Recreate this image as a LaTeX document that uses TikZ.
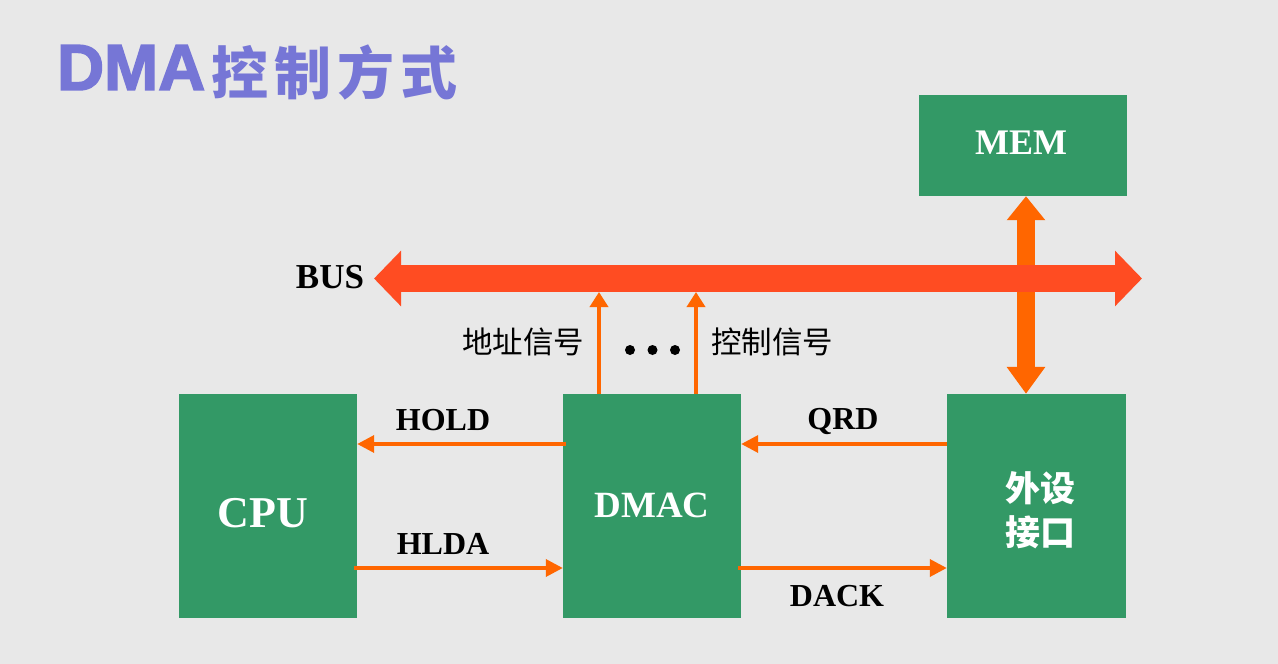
\documentclass[tikz,border=0pt]{standalone}
\usepackage{fontspec}
\setmainfont{Liberation Serif}
\newfontfamily\cjk{Noto Sans CJK SC}
\newfontfamily\titlesans[BoldFeatures={FakeBold=2.5}]{Liberation Sans}
\usetikzlibrary{arrows.meta}
\definecolor{bgc}{HTML}{E8E8E8}
\definecolor{boxgreen}{HTML}{339966}
\definecolor{busred}{HTML}{FF4C22}
\definecolor{sigorange}{HTML}{FF6600}
\definecolor{titleblue}{HTML}{7676D6}
\begin{document}
\begin{tikzpicture}[x=1pt,y=-1pt,
  box/.style={fill=boxgreen, draw=none, inner sep=0pt},
  boxtext/.style={text=white, inner sep=0pt},
  sig/.style={draw=sigorange, line width=3.5pt, -{Triangle[length=17pt,width=17pt]}},
  upsig/.style={draw=sigorange, line width=3.5pt, -{Triangle[length=15pt,width=18pt]}},
  lbl/.style={inner sep=0pt, font=\bfseries\fontsize{32}{36}\selectfont},
  cjklbl/.style={inner sep=0pt, font=\cjk\fontsize{30.5}{34}\selectfont},
  dot/.style={fill=black, draw=none}]
\fill[bgc] (0,0) rectangle (1278,664);
\useasboundingbox (0,0) rectangle (1278,664);

% title
\node[inner sep=0pt, text=titleblue, font=\titlesans\bfseries\fontsize{65}{70}\selectfont, anchor=west] (tdma) at (57,67.5) {DMA};
\node[inner sep=0pt, text=titleblue, font=\cjk\bfseries\fontsize{57}{60}\selectfont, anchor=west] (tcn) at (211,72) {控\hspace{6pt}制\hspace{6pt}方\hspace{6pt}式};

% boxes
\node[box, minimum width=208pt, minimum height=101pt] (mem) at (1023,145.5) {};
\node[box, minimum width=178pt, minimum height=224pt] (cpu) at (268,506) {};
\node[box, minimum width=178pt, minimum height=224pt] (dmac) at (652,506) {};
\node[box, minimum width=179pt, minimum height=224pt] (per) at (1036.5,506) {};

\node[boxtext, font=\bfseries\fontsize{36}{40}\selectfont] (memt) at (1021,143) {MEM};
\node[boxtext, font=\bfseries\fontsize{44}{48}\selectfont] (cput) at (263,513) {CPU};
\node[boxtext, font=\bfseries\fontsize{37}{40}\selectfont] (dmact) at (652,505) {DMAC};
\node[boxtext, font=\cjk\bfseries\fontsize{35}{44}\selectfont, align=center] (pert) at (1040,510) {外设\\接口};

% MEM <-> peripheral
\coordinate (mx) at (1026,0);
\draw[sigorange, line width=18pt, {Triangle[length=24pt,width=37pt]}-{Triangle[length=27pt,width=37pt]}] (mem.south -| mx) -- (per.north -| mx);

% bus
\coordinate (busL) at (374,278.5);
\coordinate (busR) at (1142,278.5);
\draw[busred, line width=27pt, {Triangle[length=27pt,width=54pt]}-{Triangle[length=27pt,width=54pt]}] (busL) -- (busR);
\node[lbl, font=\bfseries\fontsize{35}{38}\selectfont] (bust) at (330,277) {BUS};

% DMAC -> bus
\coordinate (busA) at (599,292);
\coordinate (busC) at (696,292);
\draw[upsig] (dmac.north -| busA) -- (busA);
\draw[upsig] (dmac.north -| busC) -- (busC);
\node[cjklbl] (addr) at (523,342) {地址信号};
\node[cjklbl] (ctrl) at (772,342) {控制信号};
\fill[dot] (630,350) circle (5pt);
\fill[dot] (652.5,350) circle (5pt);
\fill[dot] (675,350) circle (5pt);

% handshake signals
\coordinate (ytop) at (0,444);
\coordinate (ybot) at (0,568);
\draw[sig] ([xshift=3pt]dmac.west |- ytop) -- (cpu.east |- ytop);
\draw[sig] ([xshift=-3pt]cpu.east |- ybot) -- (dmac.west |- ybot);
\draw[sig] (per.west |- ytop) -- (dmac.east |- ytop);
\draw[sig] ([xshift=-3pt]dmac.east |- ybot) -- (per.west |- ybot);

\node[lbl] (hold) at (443,420) {HOLD};
\node[lbl] (hlda) at (443,544) {HLDA};
\node[lbl] (qrd) at (843,421) {QRD};
\node[lbl] (dack) at (837,596) {DACK};
\end{tikzpicture}
\end{document}
